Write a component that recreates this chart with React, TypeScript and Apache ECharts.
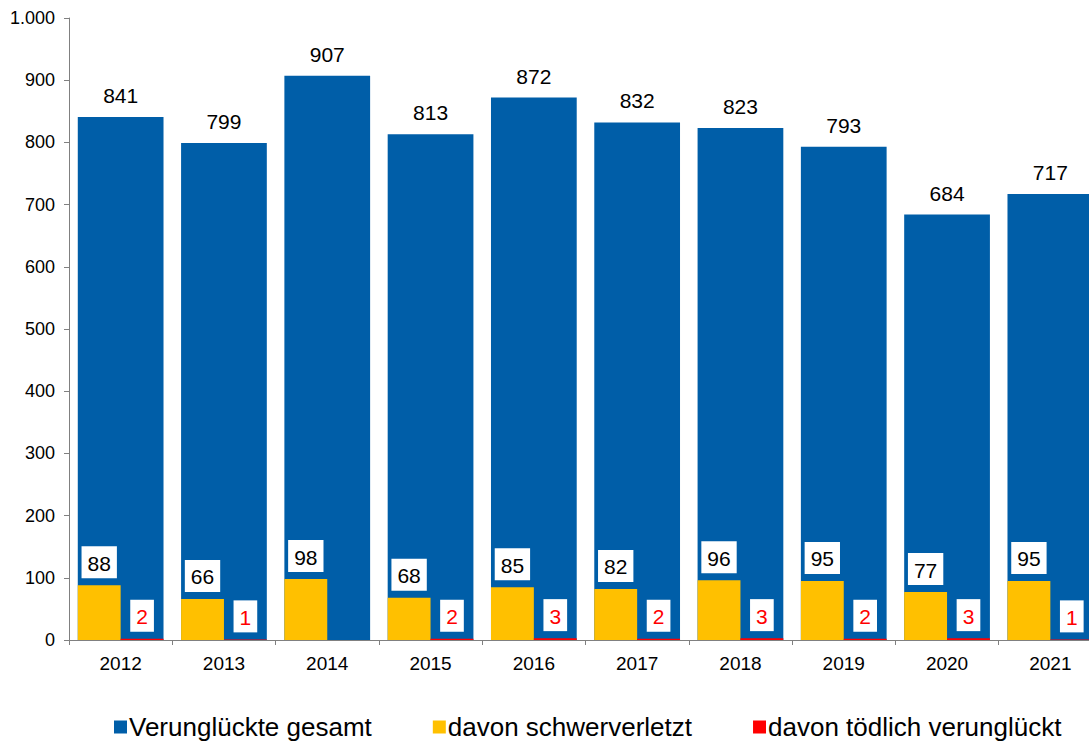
import React, { useEffect, useRef } from "react";
import * as echarts from "echarts";

const years = ["2012", "2013", "2014", "2015", "2016", "2017", "2018", "2019", "2020", "2021"];
const gesamt = [841, 799, 907, 813, 872, 832, 823, 793, 684, 717];
const schwer = [88, 66, 98, 68, 85, 82, 96, 95, 77, 95];
const toedlich = [2, 1, 0, 2, 3, 2, 3, 2, 3, 1];

const FONT = "Liberation Sans, Arial, sans-serif";

export default function App() {
  const ref = useRef<HTMLDivElement>(null);
  useEffect(() => {
    if (!ref.current) return;
    const chart = echarts.init(ref.current, undefined, { renderer: "svg" });
    const boxLabel = (color: string) => ({
      show: true,
      position: "top",
      distance: 7,
      color,
      fontSize: 21,
      lineHeight: 22,
      fontFamily: FONT,
      backgroundColor: "#ffffff",
      padding: [6, 6, 4, 6],
    });
    chart.setOption({
      animation: false,
      textStyle: { fontFamily: FONT },
      grid: { left: 69, top: 18, right: 8, bottom: 105, containLabel: false },
      legend: {
        bottom: 0,
        left: 109,
        itemWidth: 13,
        itemHeight: 13,
        itemGap: 61,
        icon: "rect",
        textStyle: { fontSize: 26, color: "#000", fontFamily: FONT, padding: [0, 0, 0, -3] },
        data: ["Verunglückte gesamt", "davon schwerverletzt", "davon tödlich verunglückt"],
      },
      xAxis: [
        {
          type: "category",
          data: years,
          axisLine: { lineStyle: { color: "#808080", width: 1 } },
          axisTick: { show: true, length: 5, lineStyle: { color: "#808080" } },
          axisLabel: { color: "#000", fontSize: 19, fontFamily: FONT, margin: 14 },
        },
        {
          type: "category",
          data: years,
          show: false,
        },
      ],
      yAxis: {
        type: "value",
        min: 0,
        max: 1000,
        interval: 100,
        splitLine: { show: false },
        axisLine: { show: true, lineStyle: { color: "#808080", width: 1 } },
        axisTick: { show: true, length: 5, lineStyle: { color: "#808080" } },
        axisLabel: {
          color: "#000",
          fontSize: 18,
          fontFamily: FONT,
          margin: 14,
          formatter: (v: number) => v.toLocaleString("de-DE"),
        },
      },
      series: [
        {
          name: "Verunglückte gesamt",
          type: "bar",
          xAxisIndex: 0,
          data: gesamt,
          barWidth: "83%",
          itemStyle: { color: "#005EA8" },
          label: {
            show: true,
            position: "top",
            distance: 11,
            color: "#000",
            fontSize: 21,
            fontFamily: FONT,
          },
          z: 1,
        },
        {
          name: "davon schwerverletzt",
          type: "bar",
          xAxisIndex: 1,
          data: schwer,
          barGap: "0%",
          barCategoryGap: "17%",
          itemStyle: { color: "#FFC000" },
          label: boxLabel("#000"),
          z: 2,
        },
        {
          name: "davon tödlich verunglückt",
          type: "bar",
          xAxisIndex: 1,
          data: toedlich.map((v) => (v === 0 ? { value: v, label: { show: false } } : v)),
          barGap: "0%",
          barCategoryGap: "17%",
          itemStyle: { color: "#FF0000" },
          label: boxLabel("#FF0000"),
          z: 2,
        },
      ],
    });
    return () => chart.dispose();
  }, []);
  return (
    <div style={{ position: "fixed", left: 0, top: 0, width: 1089, height: 745, overflow: "hidden", background: "#fff" }}>
      <div ref={ref} style={{ width: 1110, height: 745 }} />
    </div>
  );
}
